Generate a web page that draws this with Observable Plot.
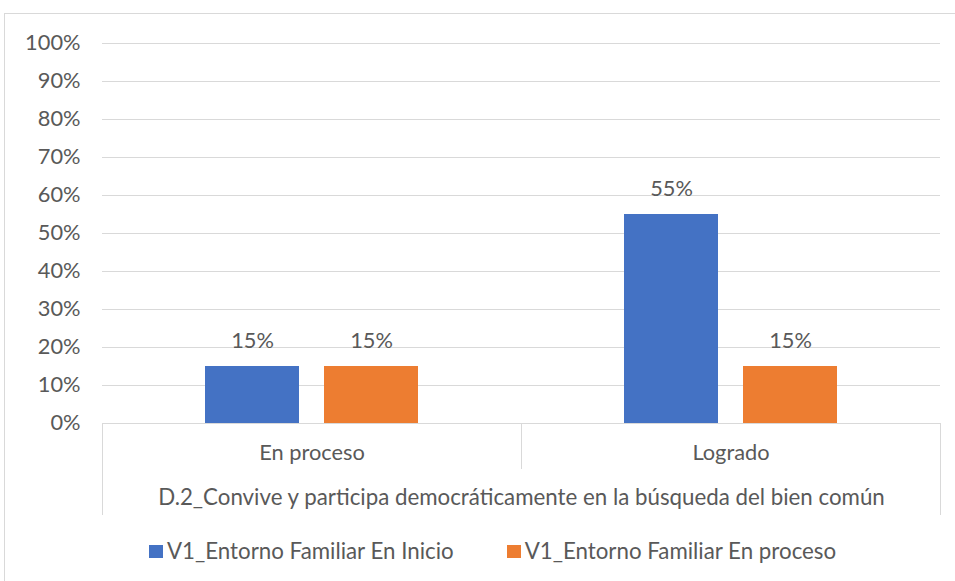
<!DOCTYPE html>
<html>
<head>
<meta charset="utf-8">
<script src="https://cdn.jsdelivr.net/npm/d3@7"></script>
<script src="https://cdn.jsdelivr.net/npm/@observablehq/plot@0.6"></script>
<style>
  html, body { margin: 0; padding: 0; background: #fff; }
  body { width: 955px; height: 581px; position: relative; overflow: hidden; font-family: Lato, "Open Sans", sans-serif; color: #595959; }
  #border { position: absolute; left: 4px; top: 13px; width: 1000px; height: 700px; border: 1px solid #d9d9d9; box-sizing: border-box; }
  #chart { position: absolute; left: 0; top: 0; }
  #group { position: absolute; left: 102px; top: 469px; width: 839px; height: 46px; box-sizing: border-box;
           border-left: 1px solid #d9d9d9; border-right: 1px solid #d9d9d9; text-align: center; font-size: 22.3px; line-height: 46px; padding-top: 5px; white-space: nowrap; }
  #legend { position: absolute; left: 149px; top: 538px; display: flex; align-items: center; font-size: 22.3px; line-height: 26px; white-space: nowrap; }
  .item { display: flex; align-items: center; margin-right: 53px; }
  .sw { width: 14px; height: 13px; margin-right: 4px; }
</style>
</head>
<body>
<div id="border"></div>
<div id="chart"></div>
<div id="group"></div>
<div id="legend"></div>
<script>
const categories = ["En proceso", "Logrado"];
const seriesNames = ["V1_Entorno Familiar En Inicio", "V1_Entorno Familiar En proceso"];
const inicioValues = [0.15, 0.55];
const procesoValues = [0.15, 0.15];
const groupLabel = "D.2_Convive y participa democráticamente en la búsqueda del bien común";
const yTicks = [0, 0.1, 0.2, 0.3, 0.4, 0.5, 0.6, 0.7, 0.8, 0.9, 1];
const colors = ["#4472c4", "#ed7d31"];

const rows = [];
categories.forEach((c, i) => {
  rows.push({cat: c, series: seriesNames[0], value: inicioValues[i]});
  rows.push({cat: c, series: seriesNames[1], value: procesoValues[i]});
});
const pct = d => Math.round(d * 100) + "%";

const chart = Plot.plot({
  width: 955,
  height: 469,
  marginTop: 43,
  marginLeft: 102,
  marginRight: 15,
  marginBottom: 46,
  style: {fontFamily: "Lato, 'Open Sans', sans-serif", fontSize: "22px", color: "#595959", background: "transparent"},
  fx: {domain: categories, padding: 0, axis: null},
  x: {domain: seriesNames, paddingInner: 0.21, paddingOuter: 0.8655, axis: null},
  y: {domain: [0, 1], axis: null},
  color: {domain: seriesNames, range: colors},
  marks: [
    Plot.gridY(yTicks, {stroke: "#d9d9d9", strokeOpacity: 1, strokeWidth: 1}),
    Plot.axisY(yTicks, {tickSize: 0, tickPadding: 22, tickFormat: pct, label: null, fill: "#595959", fontSize: 21.8}),
    Plot.barY(rows, {fx: "cat", x: "series", y: "value", fill: "series"}),
    Plot.text(rows, {fx: "cat", x: "series", y: "value", text: d => pct(d.value), dy: -25, fill: "#595959", fontSize: 21.8}),
    Plot.axisFx({anchor: "bottom", tickSize: 0, tickPadding: 21, label: null, fill: "#595959", fontSize: 21.8}),
    Plot.frame({anchor: "left", insetTop: 380, insetBottom: -46, stroke: "#d9d9d9"}),
    Plot.frame({anchor: "right", insetTop: 380, insetBottom: -46, stroke: "#d9d9d9"})
  ]
});
document.getElementById("chart").appendChild(chart);
document.getElementById("group").textContent = groupLabel;

const legend = document.getElementById("legend");
seriesNames.forEach((s, i) => {
  const item = document.createElement("div");
  item.className = "item";
  const sw = document.createElement("div");
  sw.className = "sw";
  sw.style.background = colors[i];
  const t = document.createElement("span");
  t.textContent = s;
  item.appendChild(sw);
  item.appendChild(t);
  legend.appendChild(item);
});
</script>
</body>
</html>
